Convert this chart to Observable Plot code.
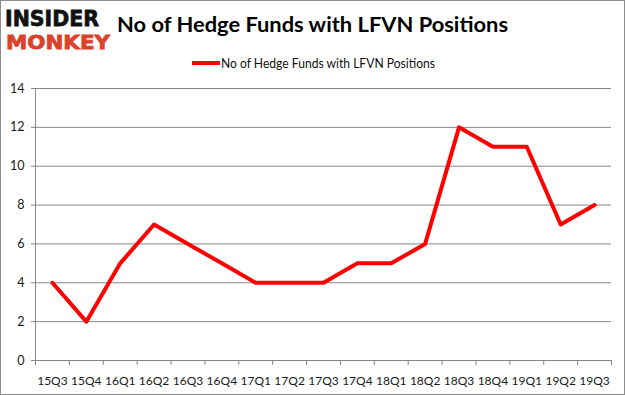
<!DOCTYPE html>
<html><head><meta charset="utf-8">
<script src="https://cdn.jsdelivr.net/npm/d3@7"></script>
<script src="https://cdn.jsdelivr.net/npm/@observablehq/plot@0.6"></script>
<style>
body{margin:0;background:#fff;}
#wrap{position:relative;width:625px;height:395px;overflow:hidden;background:#fff;}
#frame{position:absolute;left:0;top:0;width:625px;height:395px;box-sizing:border-box;border:1px solid #8c8c8c;pointer-events:none;}
#header{position:absolute;left:0;top:0;}
#chart{position:absolute;left:0;top:75px;}
</style></head><body>
<div id="wrap">
<svg id="header" width="625" height="75" xmlns="http://www.w3.org/2000/svg">
  <text id="logo1" x="5" y="26" font-family="DejaVu Sans" font-weight="bold" font-size="22" textLength="94" lengthAdjust="spacingAndGlyphs" fill="#111" stroke="#111" stroke-width="0.8"></text>
  <text id="logo2" x="6" y="49" font-family="DejaVu Sans" font-weight="bold" font-size="19" textLength="104" lengthAdjust="spacingAndGlyphs" fill="#d9432c" stroke="#d9432c" stroke-width="0.8"></text>
  <text id="title" x="117" y="32" font-family="Lato" font-weight="bold" font-size="21" textLength="391" lengthAdjust="spacingAndGlyphs" fill="#000"></text>
  <line x1="192" x2="220" y1="63" y2="63" stroke="#ff0000" stroke-width="4"></line>
  <text id="legend" x="221" y="67.5" font-family="Lato" font-size="13" textLength="214" lengthAdjust="spacingAndGlyphs" fill="#111"></text>
</svg>
<div id="chart"></div>
<div id="frame"></div>
</div>
<script>
const logoTop = "INSIDER";
const logoBottom = "MONKEY";
const titleText = "No of Hedge Funds with LFVN Positions";
const seriesName = "No of Hedge Funds with LFVN Positions";
const quarters = ["15Q3","15Q4","16Q1","16Q2","16Q3","16Q4","17Q1","17Q2","17Q3","17Q4","18Q1","18Q2","18Q3","18Q4","19Q1","19Q2","19Q3"];
const hedgeFunds = [4,2,5,7,6,5,4,4,4,5,5,6,12,11,11,7,8];
const yTicks = [0,2,4,6,8,10,12,14];

document.getElementById("logo1").textContent = logoTop;
document.getElementById("logo2").textContent = logoBottom;
document.getElementById("title").textContent = titleText;
document.getElementById("legend").textContent = seriesName;

const data = quarters.map((q, i) => ({i, q, v: hedgeFunds[i]}));
const bounds = d3.range(quarters.length + 1).map(k => k - 0.5);

const chart = Plot.plot({
  width: 625, height: 320,
  marginTop: 13, marginBottom: 35, marginLeft: 35, marginRight: 14,
  style: {background: "transparent", fontFamily: "Lato, sans-serif", fontSize: "12px", color: "#1a1a1a"},
  x: {type: "linear", domain: [-0.5, quarters.length - 0.5]},
  y: {domain: [0, 14]},
  marks: [
    Plot.ruleY(yTicks, {stroke: "#868686", strokeWidth: 1}),
    Plot.ruleX([-0.5], {stroke: "#868686"}),
    Plot.axisY({ticks: yTicks, tickSize: 4, tickPadding: 7, stroke: "#868686", fill: "#1a1a1a", fontSize: "12.5px", label: null}),
    Plot.axisX({ticks: bounds, tickSize: 5, tickFormat: () => "", stroke: "#868686", label: null}),
    Plot.axisX({ticks: d3.range(quarters.length), tickSize: 0, tickPadding: 16, tickFormat: i => quarters[i], fill: "#1a1a1a", label: null}),
    Plot.line(data, {x: "i", y: "v", stroke: "#ff0000", strokeWidth: 4})
  ]
});
document.getElementById("chart").appendChild(chart);
</script>
</body></html>
